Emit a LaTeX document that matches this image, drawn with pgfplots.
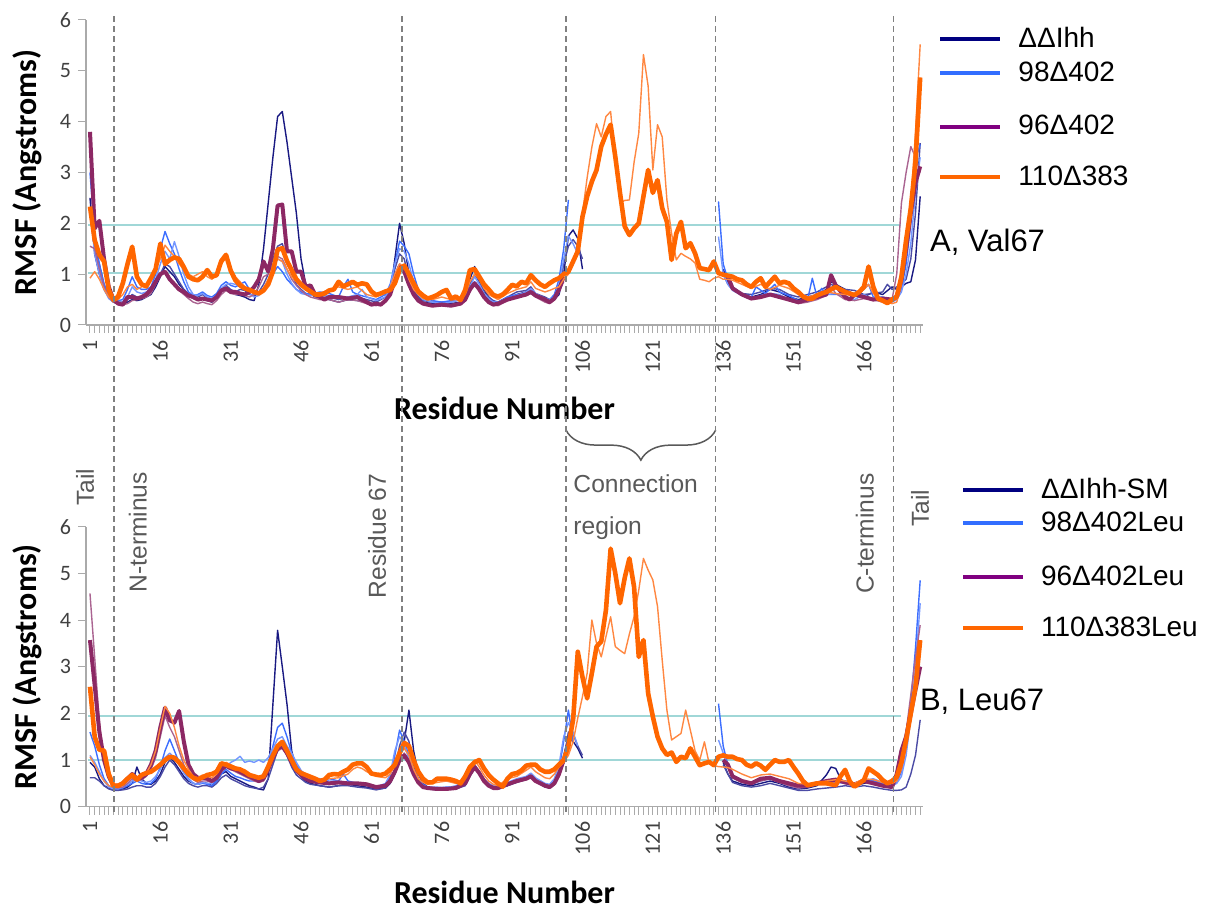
\documentclass[border=0pt]{standalone}
\usepackage{fontspec}
\setmainfont{Liberation Sans}
\newfontfamily\carlito{Carlito}
\usepackage{pgfplots}
\pgfplotsset{compat=1.18}
\usetikzlibrary{decorations.pathreplacing}
\definecolor{navyA}{RGB}{25,25,130}
\definecolor{navyB}{RGB}{75,75,165}
\definecolor{blueA}{RGB}{60,110,255}
\definecolor{blueB}{RGB}{115,150,255}
\definecolor{purpA}{RGB}{140,40,100}
\definecolor{purpB}{RGB}{170,100,145}
\definecolor{orA}{RGB}{255,102,0}
\definecolor{orB}{RGB}{255,135,65}
\definecolor{cyanln}{RGB}{160,215,215}
\definecolor{legnavy}{RGB}{0,0,128}
\definecolor{legblue}{RGB}{50,110,255}
\definecolor{legpurp}{RGB}{128,0,128}
\definecolor{axisgray}{RGB}{170,170,170}
\definecolor{tickgray}{RGB}{64,64,64}
\definecolor{annot}{RGB}{89,89,89}
\definecolor{dashgray}{RGB}{128,128,128}
\newcommand{\labfont}{\carlito\bfseries\fontsize{16}{16}\selectfont}
\pgfplotsset{
  rmsf/.style={
    scale only axis, width=418.5pt,
    xmin=0.15, xmax=178.6, ymin=0, ymax=6,
    xtick={1,16,...,166}, minor xtick={1,...,178},
    ytick={0,...,6},
    axis lines*=left,
    axis line style={draw=axisgray, line width=0.7pt},
    tick style={draw=axisgray, line width=0.5pt},
    tick align=outside,
    major tick length=4pt, minor tick length=4pt,
    /pgf/number format/assume math mode=true,
    xticklabel style={rotate=90, anchor=east, font=\carlito\fontsize{11}{11}\selectfont, text=tickgray},
    yticklabel style={font=\carlito\fontsize{11}{11}\selectfont, text=tickgray},
    xlabel={Residue Number}, ylabel={RMSF (Angstroms)},
    unbounded coords=jump,
    clip=false,
    legend image code/.code={\draw[##1, line width=2pt] (0pt,0pt) -- (30pt,0pt);},
    legend style={draw=none, fill=none, inner sep=0pt,
      font=\fontsize{14}{14}\selectfont, anchor=north west,
      row sep=1.5pt,
      /tikz/every odd column/.append style={column sep=6pt}},
    legend cell align=left,
  },
  spacer/.style={legend image code/.code={\draw[##1, line width=2pt] (0pt,0pt) -- (30pt,0pt); \path (0pt,-#1);}},
  thin/.style={line width=0.7pt, line join=round},
  cyanstyle/.style={cyanln, line width=1pt, forget plot},
}
\begin{document}
\begin{tikzpicture}
\path[use as bounding box] (0,0) rectangle (602.5pt,455pt);
% ================= TOP PANEL =================
\begin{axis}[rmsf, height=152.5pt, at={(43pt,292.5pt)}, anchor=south west,
  every axis x label/.style={at={(axis description cs:0.5,-0.272)},anchor=center,font=\labfont},
  every axis y label/.style={at={(axis description cs:-0.0705,0.5)},rotate=90,anchor=center,font=\labfont},
  legend style={at={(axis description cs:1.018,0.99)}}]
\addplot[cyanstyle] coordinates {(0.6,1.97) (174,1.97)};
\addplot[cyanstyle] coordinates {(0.6,1.03) (172.5,1.03)};
% navy 1
\addplot[thin, navyA, forget plot] coordinates {(1,2.5)(2,1.4)(3,1.0)(4,0.7)(5,0.55)(6,0.45)(7,0.42)(8,0.4)(9,0.45)(10,0.5)(11,0.48)(12,0.5)(13,0.55)(14,0.6)(15,0.75)(16,0.95)(17,1.15)(18,1.05)(19,0.95)(20,0.8)(21,0.7)(22,0.6)(23,0.52)(24,0.5)(25,0.52)(26,0.48)(27,0.45)(28,0.55)(29,0.65)(30,0.72)(31,0.65)(32,0.6)(33,0.58)(34,0.55)(35,0.5)(36,0.48)(37,0.8)(38,1.5)(39,2.4)(40,3.3)(41,4.1)(42,4.2)(43,3.6)(44,2.9)(45,2.2)(46,1.3)(47,0.8)(48,0.62)(49,0.55)(50,0.55)(52,0.5)(54,0.45)(56,0.5)(58,0.48)(60,0.45)(62,0.4)(63,0.42)(64,0.48)(65,0.6)(66,1.3)(67,2.0)(68,1.6)(69,1.0)(70,0.7)(71,0.55)(72,0.45)(74,0.42)(76,0.4)(78,0.42)(80,0.45)(81,0.6)(82,0.9)(83,1.15)(84,0.9)(85,0.7)(86,0.55)(87,0.45)(88,0.42)(90,0.5)(92,0.6)(94,0.65)(95,0.72)(96,0.6)(98,0.5)(99,0.45)(100,0.5)(101,0.6)(102,1.0)(103,1.75)(104,1.87)(105,1.7)(106,1.1)(107,nan)(136,1.1)(137,0.85)(138,0.7)(140,0.6)(142,0.55)(144,0.6)(146,0.7)(148,0.65)(150,0.55)(152,0.5)(154,0.55)(156,0.6)(158,0.7)(159,0.85)(160,0.8)(162,0.7)(164,0.6)(166,0.55)(168,0.65)(170,0.6)(172,0.75)(173,0.7)(174,0.75)(175,0.82)(176,0.85)(177,1.28)(178,2.53)};
% navy 2
\addplot[thin, navyB, forget plot] coordinates {(1,2.2)(2,1.5)(3,1.2)(4,0.8)(5,0.55)(6,0.48)(7,0.45)(8,0.45)(9,0.5)(10,0.6)(11,0.55)(12,0.55)(13,0.6)(14,0.65)(15,0.8)(16,1.0)(17,1.2)(18,1.15)(19,1.0)(20,0.85)(21,0.7)(22,0.62)(23,0.55)(24,0.55)(25,0.6)(26,0.52)(27,0.5)(28,0.6)(29,0.7)(30,0.78)(31,0.7)(32,0.65)(33,0.7)(34,0.68)(35,0.6)(36,0.58)(37,0.65)(38,0.8)(39,1.0)(40,1.3)(41,1.55)(42,1.6)(43,1.3)(44,1.0)(45,0.8)(46,0.7)(47,0.62)(48,0.6)(50,0.55)(52,0.55)(54,0.5)(56,0.55)(58,0.55)(60,0.5)(62,0.45)(64,0.55)(65,0.7)(66,1.1)(67,1.4)(68,1.3)(69,0.9)(70,0.7)(71,0.55)(72,0.48)(74,0.45)(76,0.45)(78,0.45)(80,0.5)(81,0.6)(82,0.8)(83,1.0)(84,0.85)(85,0.65)(86,0.55)(87,0.48)(88,0.45)(90,0.55)(92,0.65)(94,0.68)(95,0.75)(96,0.62)(98,0.55)(99,0.5)(100,0.55)(101,0.7)(102,1.2)(103,1.55)(104,1.68)(105,1.55)(106,1.3)(107,nan)(136,1.0)(137,0.8)(138,0.7)(140,0.62)(142,0.6)(144,0.65)(146,0.72)(148,0.7)(150,0.6)(152,0.55)(154,0.6)(156,0.65)(158,0.75)(159,0.8)(160,0.75)(162,0.7)(164,0.68)(166,0.6)(168,0.62)(170,0.65)(171,0.8)(172,0.7)(173,0.75)(174,0.8)(175,0.9)(176,1.3)(177,2.2)(178,3.58)};
% blue 1
\addplot[thin, blueA, forget plot] coordinates {(1,3.0)(2,1.8)(3,1.2)(4,0.8)(5,0.6)(6,0.5)(7,0.48)(8,0.5)(9,0.7)(10,0.95)(11,0.75)(12,0.7)(13,0.7)(14,0.75)(15,1.0)(16,1.5)(17,1.84)(18,1.6)(19,1.4)(20,1.1)(21,0.85)(22,0.65)(23,0.58)(24,0.6)(25,0.65)(26,0.58)(27,0.55)(28,0.62)(29,0.78)(30,0.85)(31,0.78)(32,0.75)(33,0.8)(34,0.85)(35,0.7)(36,0.6)(37,0.6)(38,0.7)(39,0.85)(40,1.0)(41,1.15)(42,1.05)(43,0.9)(44,0.8)(45,0.7)(46,0.65)(47,0.62)(48,0.6)(50,0.65)(52,0.62)(54,0.55)(55,0.75)(56,0.9)(57,0.65)(58,0.6)(60,0.55)(62,0.5)(64,0.6)(65,0.8)(66,1.2)(67,1.65)(68,1.55)(69,1.4)(70,1.0)(71,0.7)(72,0.55)(74,0.48)(76,0.45)(78,0.48)(80,0.5)(81,0.55)(82,0.7)(83,0.85)(84,0.75)(85,0.6)(86,0.5)(87,0.45)(88,0.45)(90,0.55)(92,0.6)(94,0.62)(95,0.7)(96,0.6)(98,0.5)(99,0.5)(100,0.6)(101,0.9)(102,1.5)(103,2.46)(104,nan)(135,2.43)(136,1.2)(137,0.9)(138,0.75)(140,0.62)(142,0.55)(143,0.75)(145,0.62)(147,0.8)(148,0.65)(150,0.58)(152,0.48)(154,0.5)(155,0.92)(156,0.55)(157,0.72)(158,0.6)(160,0.6)(162,0.62)(164,0.55)(166,0.7)(167,0.8)(168,0.55)(170,0.55)(172,0.5)(173,0.55)(174,0.7)(175,1.2)(176,2.0)(177,3.25)(178,3.55)};
% blue 2
\addplot[thin, blueB, forget plot] coordinates {(1,2.3)(2,1.4)(3,1.0)(4,0.7)(5,0.52)(6,0.45)(7,0.42)(8,0.45)(9,0.55)(10,0.75)(11,0.65)(12,0.62)(13,0.65)(14,0.7)(15,0.9)(16,1.2)(17,1.45)(18,1.3)(19,1.64)(20,1.35)(21,1.0)(22,0.75)(23,0.6)(24,0.58)(25,0.62)(26,0.55)(27,0.52)(28,0.58)(29,0.72)(30,0.8)(31,0.82)(32,0.8)(33,0.75)(34,0.72)(35,0.62)(36,0.55)(37,0.58)(38,0.72)(39,0.9)(40,1.1)(41,1.3)(42,1.25)(43,1.0)(44,0.82)(45,0.7)(46,0.62)(47,0.6)(48,0.58)(50,0.6)(52,0.58)(54,0.52)(56,0.55)(58,0.6)(59,0.7)(60,0.55)(62,0.48)(64,0.55)(65,0.75)(66,1.2)(67,1.5)(68,1.45)(69,1.2)(70,0.85)(71,0.6)(72,0.5)(74,0.45)(76,0.42)(78,0.45)(80,0.5)(81,0.55)(82,0.75)(83,0.95)(84,0.8)(85,0.62)(86,0.52)(87,0.45)(88,0.45)(90,0.52)(92,0.58)(94,0.65)(95,0.72)(96,0.62)(98,0.52)(99,0.5)(100,0.55)(101,0.8)(102,1.3)(103,1.75)(104,1.6)(105,1.4)(106,nan)(135,1.74)(136,1.0)(137,0.8)(138,0.68)(140,0.58)(142,0.52)(144,0.58)(146,0.62)(148,0.6)(150,0.5)(152,0.45)(154,0.5)(156,0.55)(158,0.6)(160,0.62)(162,0.55)(164,0.5)(166,0.6)(168,0.5)(170,0.48)(172,0.45)(173,0.5)(174,0.65)(175,1.0)(176,1.6)(177,2.6)(178,3.3)};
% purple thin
\addplot[thin, purpB, forget plot] coordinates {(1,1.55)(2,1.5)(3,1.1)(4,0.75)(5,0.55)(6,0.45)(7,0.42)(8,0.4)(9,0.42)(10,0.48)(11,0.5)(12,0.52)(13,0.55)(14,0.62)(15,0.8)(16,0.98)(17,1.05)(18,0.9)(19,0.78)(20,0.68)(21,0.6)(22,0.52)(23,0.45)(24,0.42)(25,0.45)(26,0.42)(27,0.4)(28,0.48)(29,0.6)(30,0.68)(31,0.62)(32,0.6)(33,0.6)(34,0.58)(35,0.55)(36,0.6)(37,0.75)(38,0.95)(39,1.0)(40,1.2)(41,1.35)(42,1.3)(43,1.1)(44,0.9)(45,0.78)(46,0.68)(47,0.6)(48,0.55)(50,0.5)(52,0.5)(54,0.45)(56,0.5)(58,0.48)(60,0.42)(62,0.38)(64,0.45)(65,0.6)(66,0.95)(67,1.2)(68,1.1)(69,0.8)(70,0.6)(71,0.5)(72,0.42)(74,0.38)(76,0.38)(78,0.4)(80,0.42)(81,0.5)(82,0.65)(83,0.8)(84,0.68)(85,0.55)(86,0.45)(87,0.4)(88,0.38)(90,0.48)(92,0.55)(94,0.58)(95,0.62)(96,0.55)(98,0.45)(99,0.42)(100,0.5)(101,0.65)(102,0.85)(103,nan)(137,0.92)(138,0.75)(140,0.6)(142,0.52)(144,0.55)(146,0.58)(148,0.55)(150,0.48)(152,0.42)(154,0.45)(156,0.5)(158,0.58)(159,0.75)(160,0.62)(162,0.5)(164,0.48)(166,0.52)(168,0.5)(170,0.45)(172,0.5)(173,1.0)(174,2.4)(175,3.0)(176,3.51)(177,3.3)(178,3.0)};
% purple thick
\addplot[line width=2pt, line join=round, purpA, forget plot] coordinates {(1,3.8)(2,1.9)(3,2.05)(4,1.3)(5,0.75)(6,0.5)(7,0.42)(8,0.4)(9,0.55)(10,0.55)(11,0.52)(12,0.55)(13,0.6)(14,0.7)(15,0.85)(16,1.0)(17,1.05)(18,0.9)(19,0.8)(20,0.7)(21,0.65)(22,0.58)(23,0.55)(24,0.5)(25,0.52)(26,0.5)(27,0.48)(28,0.55)(29,0.68)(30,0.72)(31,0.65)(32,0.65)(33,0.62)(34,0.6)(35,0.65)(36,0.75)(37,0.9)(38,1.25)(39,1.05)(40,1.5)(41,2.35)(42,2.37)(43,1.45)(44,1.45)(45,1.05)(46,1.05)(47,0.75)(48,0.78)(49,0.6)(50,0.55)(51,0.5)(52,0.55)(54,0.55)(56,0.52)(58,0.55)(60,0.45)(61,0.4)(62,0.42)(63,0.4)(64,0.48)(65,0.6)(66,0.9)(67,1.15)(68,1.05)(69,0.8)(70,0.6)(71,0.48)(72,0.42)(74,0.38)(76,0.4)(78,0.38)(80,0.42)(81,0.5)(82,0.7)(83,0.82)(84,0.7)(85,0.55)(86,0.45)(87,0.4)(88,0.42)(90,0.5)(92,0.55)(94,0.6)(95,0.65)(96,0.58)(98,0.5)(99,0.45)(100,0.52)(101,0.7)(102,0.95)(103,nan)(137,0.95)(138,0.72)(140,0.6)(142,0.52)(144,0.55)(146,0.6)(148,0.55)(150,0.5)(152,0.45)(154,0.5)(156,0.55)(158,0.6)(159,0.98)(160,0.78)(162,0.55)(163,0.5)(164,0.6)(166,0.55)(168,0.5)(170,0.52)(172,0.5)(173,0.55)(174,0.9)(175,1.5)(176,2.2)(177,2.8)(178,3.12)};
% orange thin
\addplot[thin, orB, forget plot] coordinates {(1,0.92)(2,1.05)(3,0.9)(4,0.7)(5,0.55)(6,0.48)(7,0.5)(8,0.6)(9,0.75)(10,0.8)(11,0.7)(12,0.75)(13,0.8)(14,0.9)(15,1.1)(16,1.3)(17,1.57)(18,1.45)(19,1.35)(20,1.2)(21,1.1)(22,1.0)(23,0.95)(24,1.0)(25,1.05)(26,0.95)(27,0.9)(28,1.0)(29,1.2)(30,1.32)(31,1.1)(32,0.95)(33,0.85)(34,0.75)(35,0.7)(36,0.65)(37,0.65)(38,0.72)(39,0.9)(40,1.15)(41,1.3)(42,1.25)(43,1.1)(44,0.95)(45,0.85)(46,0.75)(47,0.7)(48,0.65)(49,0.6)(50,0.62)(52,0.7)(54,0.75)(56,0.7)(58,0.75)(60,0.6)(62,0.55)(64,0.65)(65,0.75)(66,1.0)(67,1.2)(68,1.15)(69,0.9)(70,0.7)(71,0.6)(72,0.52)(74,0.5)(76,0.55)(78,0.5)(80,0.5)(81,0.6)(82,0.85)(83,1.0)(84,0.9)(85,0.72)(86,0.6)(87,0.55)(88,0.5)(90,0.62)(92,0.7)(94,0.75)(95,0.85)(96,0.72)(98,0.65)(99,0.68)(100,0.72)(101,0.75)(102,0.9)(103,1.0)(104,1.2)(105,1.6)(106,2.2)(107,2.9)(108,3.5)(109,3.96)(110,3.7)(111,4.1)(112,4.2)(113,3.2)(114,2.4)(115,2.45)(116,2.46)(117,3.2)(118,3.77)(119,5.32)(120,4.7)(121,3.05)(122,3.94)(123,3.7)(124,2.46)(125,1.8)(126,1.28)(127,1.41)(128,1.35)(129,1.3)(130,1.22)(131,0.9)(132,0.88)(133,0.85)(134,0.92)(135,0.95)(136,0.9)(137,0.9)(138,0.88)(140,0.8)(142,0.72)(144,0.8)(146,0.7)(148,0.78)(150,0.72)(152,0.6)(154,0.55)(156,0.6)(158,0.65)(160,0.62)(162,0.6)(164,0.58)(166,0.7)(167,0.8)(168,0.62)(170,0.5)(172,0.42)(173,0.45)(174,0.8)(175,1.4)(176,2.4)(177,3.8)(178,5.52)};
% orange thick
\addplot[line width=2.3pt, line join=round, orA, forget plot] coordinates {(1,2.33)(2,1.67)(3,1.38)(4,1.25)(5,0.69)(6,0.49)(7,0.56)(8,0.82)(9,1.2)(10,1.54)(11,0.95)(12,0.8)(13,0.76)(14,0.92)(15,1.1)(16,1.6)(17,1.2)(18,1.28)(19,1.33)(20,1.3)(21,1.14)(22,0.95)(23,0.9)(24,0.88)(25,0.95)(26,1.08)(27,0.95)(28,0.98)(29,1.26)(30,1.38)(31,1.07)(32,0.88)(33,0.78)(34,0.72)(35,0.69)(36,0.65)(37,0.62)(38,0.68)(39,0.8)(40,1.05)(41,1.48)(42,1.51)(43,1.26)(44,1.08)(45,0.9)(46,0.8)(47,0.72)(48,0.66)(49,0.6)(50,0.6)(51,0.62)(52,0.68)(53,0.7)(54,0.85)(55,0.76)(56,0.8)(57,0.85)(58,0.79)(59,0.82)(60,0.8)(61,0.66)(62,0.59)(63,0.62)(64,0.66)(65,0.69)(66,0.82)(67,1.08)(68,1.17)(69,1.0)(70,0.82)(71,0.66)(72,0.58)(73,0.52)(74,0.55)(75,0.59)(76,0.65)(77,0.69)(78,0.52)(79,0.56)(80,0.49)(81,0.69)(82,1.08)(83,1.1)(84,0.95)(85,0.8)(86,0.7)(87,0.59)(88,0.56)(89,0.6)(90,0.69)(91,0.79)(92,0.76)(93,0.85)(94,0.82)(95,0.98)(96,0.88)(97,0.8)(98,0.75)(99,0.82)(100,0.88)(101,0.92)(102,1.0)(103,1.05)(104,1.25)(105,1.45)(106,2.13)(107,2.53)(108,2.82)(109,3.05)(110,3.51)(111,3.75)(112,3.94)(113,3.31)(114,2.6)(115,1.94)(116,1.77)(117,1.9)(118,2.0)(119,2.53)(120,3.05)(121,2.6)(122,2.85)(123,2.3)(124,2.03)(125,1.28)(126,1.8)(127,2.03)(128,1.51)(129,1.61)(130,1.41)(131,1.12)(132,1.1)(133,1.08)(134,1.25)(135,1.02)(136,0.99)(137,0.97)(138,0.95)(139,0.9)(140,0.88)(141,0.8)(142,0.75)(143,0.85)(144,0.92)(145,0.75)(146,0.85)(147,0.95)(148,0.82)(149,0.85)(150,0.82)(151,0.72)(152,0.65)(153,0.56)(154,0.52)(155,0.52)(156,0.58)(157,0.62)(158,0.65)(159,0.7)(160,0.75)(161,0.7)(162,0.65)(163,0.62)(164,0.59)(165,0.65)(166,0.75)(167,1.15)(168,0.75)(169,0.52)(170,0.48)(171,0.43)(172,0.5)(173,0.56)(174,0.95)(175,1.67)(176,2.3)(177,3.2)(178,4.87)};
\addlegendimage{legnavy}\addlegendentry{ΔΔIhh}
\addlegendimage{legblue,spacer=17.5pt}\addlegendentry{98Δ402}
\addlegendimage{legpurp,spacer=16pt}\addlegendentry{96Δ402}
\addlegendimage{orA}\addlegendentry{110Δ383}
\node[anchor=west, inner sep=0pt, font=\fontsize{15.5}{15.5}\selectfont] at (axis description cs:1.008,0.272) {A, Val67};
\end{axis}
% ================= BOTTOM PANEL =================
\begin{axis}[rmsf, height=140pt, at={(43pt,51.65pt)}, anchor=south west,
  every axis x label/.style={at={(axis description cs:0.5,-0.305)},anchor=center,font=\labfont},
  every axis y label/.style={at={(axis description cs:-0.0705,0.5)},rotate=90,anchor=center,font=\labfont},
  legend style={at={(axis description cs:1.045,1.19)}}]
\addplot[cyanstyle] coordinates {(0.6,1.95) (174,1.95)};
\addplot[cyanstyle] coordinates {(0.6,1.0) (173,1.0)};
% navy 1
\addplot[thin, navyA, forget plot] coordinates {(1,0.95)(2,0.85)(3,0.6)(4,0.45)(5,0.4)(6,0.36)(7,0.36)(8,0.38)(9,0.42)(10,0.5)(11,0.85)(12,0.6)(13,0.5)(14,0.48)(15,0.55)(16,0.7)(17,0.95)(18,1.05)(19,0.95)(20,0.8)(21,0.65)(22,0.55)(23,0.5)(24,0.48)(25,0.52)(26,0.5)(27,0.45)(28,0.55)(29,0.7)(30,0.75)(31,0.65)(32,0.6)(33,0.55)(34,0.5)(35,0.45)(36,0.42)(37,0.38)(38,0.36)(39,0.6)(40,2.2)(41,3.78)(42,3.0)(43,2.2)(44,1.2)(45,0.8)(46,0.65)(47,0.55)(48,0.5)(50,0.45)(52,0.42)(54,0.45)(56,0.48)(58,0.45)(60,0.42)(62,0.38)(64,0.4)(65,0.5)(66,0.7)(67,1.0)(68,1.4)(69,2.07)(70,1.2)(71,0.7)(72,0.5)(73,0.42)(75,0.38)(77,0.4)(79,0.38)(81,0.5)(82,0.7)(83,0.88)(84,0.75)(85,0.6)(86,0.48)(87,0.42)(88,0.4)(90,0.45)(92,0.55)(94,0.6)(95,0.7)(96,0.58)(98,0.45)(99,0.42)(100,0.5)(101,0.7)(102,1.1)(103,1.5)(104,1.4)(105,1.25)(106,1.04)(107,nan)(136,0.95)(137,0.7)(138,0.55)(140,0.48)(142,0.45)(144,0.5)(146,0.55)(148,0.5)(150,0.42)(152,0.38)(154,0.4)(156,0.45)(158,0.68)(159,0.85)(160,0.82)(161,0.6)(162,0.5)(164,0.45)(166,0.5)(168,0.55)(170,0.5)(172,0.45)(173,0.6)(174,1.0)(175,1.6)(176,2.2)(177,2.6)(178,3.0)};
% navy 2
\addplot[thin, navyB, forget plot] coordinates {(1,0.62)(2,0.62)(3,0.55)(4,0.45)(5,0.38)(6,0.35)(7,0.35)(8,0.36)(9,0.38)(10,0.42)(11,0.45)(12,0.45)(13,0.42)(14,0.42)(15,0.5)(16,0.65)(17,0.85)(18,1.0)(19,0.9)(20,0.75)(21,0.6)(22,0.5)(23,0.45)(24,0.42)(25,0.45)(26,0.45)(27,0.42)(28,0.5)(29,0.62)(30,0.68)(31,0.6)(32,0.55)(33,0.5)(34,0.45)(35,0.42)(36,0.4)(37,0.38)(38,0.42)(39,0.6)(40,0.9)(41,1.2)(42,1.3)(43,1.1)(44,0.85)(45,0.68)(46,0.6)(47,0.52)(48,0.48)(50,0.45)(52,0.42)(54,0.45)(56,0.45)(58,0.42)(60,0.4)(62,0.36)(64,0.4)(65,0.55)(66,0.8)(67,1.3)(68,1.6)(69,1.4)(70,0.9)(71,0.6)(72,0.45)(73,0.38)(75,0.36)(77,0.38)(79,0.38)(81,0.45)(82,0.65)(83,0.82)(84,0.7)(85,0.55)(86,0.45)(87,0.4)(88,0.38)(90,0.45)(92,0.52)(94,0.58)(95,0.65)(96,0.55)(98,0.42)(99,0.4)(100,0.48)(101,0.65)(102,1.0)(103,1.6)(104,1.55)(105,1.3)(106,1.1)(107,nan)(136,0.9)(137,0.7)(138,0.52)(140,0.45)(142,0.42)(144,0.45)(146,0.5)(148,0.45)(150,0.4)(152,0.35)(154,0.35)(156,0.38)(158,0.4)(160,0.42)(162,0.45)(164,0.42)(166,0.45)(168,0.42)(170,0.38)(172,0.35)(173,0.35)(174,0.36)(175,0.42)(176,0.7)(177,1.1)(178,1.86)};
% blue 1
\addplot[thin, blueA, forget plot] coordinates {(1,1.6)(2,1.3)(3,0.9)(4,0.6)(5,0.45)(6,0.4)(7,0.38)(8,0.4)(9,0.45)(10,0.5)(11,0.55)(12,0.5)(13,0.48)(14,0.5)(15,0.6)(16,0.85)(17,1.2)(18,1.45)(19,1.2)(20,0.95)(21,0.75)(22,0.6)(23,0.5)(24,0.48)(25,0.5)(26,0.48)(27,0.45)(28,0.55)(29,0.7)(30,0.8)(31,0.72)(32,0.65)(33,0.62)(34,0.58)(35,0.55)(36,0.55)(37,0.6)(38,0.7)(39,0.9)(40,1.3)(41,1.7)(42,1.79)(43,1.5)(44,1.15)(45,0.9)(46,0.75)(47,0.65)(48,0.6)(50,0.55)(52,0.6)(54,0.55)(55,0.7)(56,0.55)(58,0.5)(60,0.48)(62,0.42)(64,0.48)(65,0.65)(66,1.1)(67,1.64)(68,1.4)(69,1.1)(70,0.8)(71,0.6)(72,0.48)(73,0.42)(75,0.4)(77,0.42)(79,0.42)(81,0.5)(82,0.7)(83,0.9)(84,0.75)(85,0.58)(86,0.48)(87,0.42)(88,0.42)(90,0.5)(92,0.55)(94,0.62)(95,0.7)(96,0.6)(98,0.48)(99,0.45)(100,0.55)(101,0.8)(102,1.4)(103,2.07)(104,1.4)(105,nan)(135,2.21)(136,1.3)(137,0.9)(138,0.65)(140,0.55)(142,0.5)(144,0.6)(146,0.65)(148,0.55)(150,0.5)(152,0.45)(154,0.42)(156,0.48)(158,0.52)(160,0.5)(162,0.55)(164,0.5)(166,0.58)(168,0.55)(170,0.5)(172,0.48)(173,0.52)(174,0.75)(175,1.3)(176,2.2)(177,3.4)(178,4.85)};
% blue 2
\addplot[thin, blueB, forget plot] coordinates {(1,1.1)(2,0.95)(3,0.75)(4,0.55)(5,0.42)(6,0.38)(7,0.38)(8,0.42)(9,0.48)(10,0.55)(11,0.6)(12,0.55)(13,0.52)(14,0.55)(15,0.65)(16,0.8)(17,1.05)(18,1.15)(19,1.05)(20,0.9)(21,0.72)(22,0.58)(23,0.5)(24,0.48)(25,0.52)(26,0.5)(27,0.5)(28,0.6)(29,0.75)(30,0.85)(31,0.95)(32,1.0)(33,1.08)(34,0.95)(35,0.98)(36,0.95)(37,1.0)(38,0.95)(39,1.05)(40,1.25)(41,1.45)(42,1.5)(43,1.3)(44,1.15)(45,0.95)(46,0.78)(47,0.68)(48,0.62)(50,0.6)(52,0.55)(54,0.55)(56,0.52)(58,0.5)(60,0.45)(62,0.42)(64,0.5)(65,0.7)(66,1.2)(67,1.5)(68,1.35)(69,1.0)(70,0.75)(71,0.55)(72,0.45)(73,0.42)(75,0.42)(77,0.4)(79,0.45)(81,0.55)(82,0.72)(83,0.85)(84,0.72)(85,0.58)(86,0.5)(87,0.45)(88,0.45)(90,0.52)(92,0.6)(94,0.65)(95,0.72)(96,0.62)(98,0.5)(99,0.48)(100,0.6)(101,0.9)(102,1.5)(103,1.8)(104,1.6)(105,1.3)(106,nan)(135,1.43)(136,1.15)(137,0.85)(138,0.62)(140,0.52)(142,0.48)(144,0.55)(146,0.6)(148,0.52)(150,0.45)(152,0.4)(154,0.45)(156,0.5)(158,0.55)(160,0.52)(162,0.5)(164,0.48)(166,0.55)(168,0.6)(170,0.52)(172,0.45)(173,0.5)(174,0.65)(175,1.1)(176,1.9)(177,3.0)(178,4.36)};
% purple thin
\addplot[thin, purpB, forget plot] coordinates {(1,4.57)(2,3.2)(3,1.8)(4,1.0)(5,0.6)(6,0.42)(7,0.4)(8,0.42)(9,0.5)(10,0.6)(11,0.55)(12,0.58)(13,0.65)(14,0.8)(15,1.05)(16,1.5)(17,1.95)(18,1.7)(19,1.5)(20,1.2)(21,0.9)(22,0.7)(23,0.58)(24,0.52)(25,0.55)(26,0.55)(27,0.52)(28,0.6)(29,0.75)(30,0.85)(31,0.8)(32,0.75)(33,0.7)(34,0.65)(35,0.6)(36,0.55)(37,0.52)(38,0.55)(39,0.75)(40,1.0)(41,1.2)(42,1.25)(43,1.1)(44,0.9)(45,0.75)(46,0.65)(47,0.58)(48,0.55)(50,0.5)(52,0.48)(54,0.5)(56,0.5)(58,0.48)(60,0.45)(62,0.4)(64,0.45)(65,0.55)(66,0.75)(67,1.0)(68,1.15)(69,1.0)(70,0.75)(71,0.55)(72,0.45)(73,0.4)(75,0.38)(77,0.4)(79,0.4)(81,0.5)(82,0.68)(83,0.82)(84,0.7)(85,0.55)(86,0.45)(87,0.42)(88,0.4)(90,0.48)(92,0.55)(94,0.6)(95,0.68)(96,0.58)(98,0.48)(99,0.45)(100,0.52)(101,0.7)(102,0.95)(103,nan)(136,0.98)(137,0.85)(138,0.62)(140,0.52)(142,0.5)(144,0.55)(146,0.6)(148,0.52)(150,0.45)(152,0.4)(154,0.42)(156,0.48)(158,0.55)(160,0.6)(162,0.52)(164,0.48)(166,0.55)(168,0.5)(170,0.45)(172,0.42)(173,0.6)(174,1.0)(175,1.6)(176,2.4)(177,3.2)(178,3.89)};
% purple thick
\addplot[line width=2pt, line join=round, purpA, forget plot] coordinates {(1,3.57)(2,2.6)(3,1.6)(4,1.0)(5,0.65)(6,0.45)(7,0.45)(8,0.5)(9,0.6)(10,0.7)(11,0.6)(12,0.62)(13,0.7)(14,0.9)(15,1.2)(16,1.7)(17,2.12)(18,1.85)(19,1.8)(20,2.05)(21,1.4)(22,0.9)(23,0.7)(24,0.62)(25,0.62)(26,0.6)(27,0.55)(28,0.62)(29,0.8)(30,0.88)(31,0.82)(32,0.8)(33,0.75)(34,0.7)(35,0.65)(36,0.6)(37,0.55)(38,0.6)(39,0.8)(40,1.05)(41,1.25)(42,1.3)(43,1.15)(44,0.95)(45,0.78)(46,0.68)(47,0.6)(48,0.55)(50,0.52)(52,0.5)(54,0.52)(56,0.5)(58,0.5)(60,0.48)(62,0.42)(64,0.45)(65,0.55)(66,0.75)(67,1.0)(68,1.1)(69,0.95)(70,0.7)(71,0.52)(72,0.42)(73,0.4)(75,0.38)(77,0.38)(79,0.4)(81,0.5)(82,0.7)(83,0.85)(84,0.72)(85,0.55)(86,0.45)(87,0.4)(88,0.4)(90,0.48)(92,0.55)(94,0.6)(95,0.65)(96,0.55)(98,0.45)(99,0.42)(100,0.5)(101,0.7)(102,1.0)(103,nan)(136,1.0)(137,0.9)(138,0.65)(140,0.55)(142,0.5)(144,0.6)(146,0.62)(148,0.55)(150,0.5)(152,0.45)(154,0.45)(156,0.5)(158,0.55)(160,0.58)(162,0.52)(164,0.48)(166,0.55)(168,0.5)(170,0.45)(172,0.42)(173,0.7)(174,1.2)(175,1.5)(176,2.0)(177,2.5)(178,3.0)};
% orange thin
\addplot[thin, orB, forget plot] coordinates {(1,1.07)(2,0.9)(3,0.7)(4,0.55)(5,0.45)(6,0.42)(7,0.45)(8,0.5)(9,0.6)(10,0.7)(11,0.62)(12,0.65)(13,0.72)(14,0.9)(15,1.2)(16,1.7)(17,2.15)(18,2.0)(19,1.7)(20,1.3)(21,1.0)(22,0.8)(23,0.65)(24,0.62)(25,0.68)(26,0.65)(27,0.62)(28,0.7)(29,0.88)(30,0.95)(31,0.9)(32,0.85)(33,0.8)(34,0.75)(35,0.7)(36,0.65)(37,0.62)(38,0.65)(39,0.85)(40,1.1)(41,1.3)(42,1.32)(43,1.15)(44,0.95)(45,0.8)(46,0.7)(47,0.65)(48,0.6)(50,0.58)(52,0.6)(54,0.62)(56,0.7)(57,0.8)(58,0.85)(59,0.82)(60,0.75)(62,0.65)(64,0.62)(65,0.7)(66,0.9)(67,1.1)(68,1.25)(69,1.1)(70,0.8)(71,0.6)(72,0.52)(73,0.48)(75,0.52)(77,0.55)(79,0.5)(81,0.62)(82,0.85)(83,1.0)(84,0.85)(85,0.68)(86,0.55)(87,0.48)(88,0.45)(90,0.6)(92,0.65)(94,0.78)(95,0.85)(96,0.75)(98,0.62)(99,0.6)(100,0.7)(101,0.85)(102,0.95)(103,1.1)(104,1.39)(105,1.9)(106,2.36)(107,2.86)(108,4.0)(109,3.5)(110,3.21)(111,3.64)(112,4.07)(113,3.43)(114,3.35)(115,3.28)(116,3.7)(117,4.07)(118,4.64)(119,5.32)(120,5.07)(121,4.86)(122,4.29)(123,3.14)(124,2.07)(125,1.43)(126,1.5)(127,1.57)(128,2.07)(129,1.64)(130,1.2)(131,1.0)(132,1.39)(133,0.93)(134,0.88)(135,0.86)(136,0.85)(137,0.84)(138,0.8)(140,0.7)(142,0.62)(144,0.68)(146,0.7)(148,0.65)(150,0.6)(152,0.5)(154,0.48)(156,0.52)(158,0.55)(160,0.58)(162,0.55)(164,0.5)(166,0.6)(168,0.58)(170,0.52)(172,0.5)(173,0.55)(174,0.8)(175,1.3)(176,2.0)(177,2.8)(178,3.4)};
% orange thick
\addplot[line width=2.3pt, line join=round, orA, forget plot] coordinates {(1,2.57)(2,1.5)(3,1.22)(4,1.2)(5,0.7)(6,0.45)(7,0.45)(8,0.5)(9,0.6)(10,0.68)(11,0.58)(12,0.68)(13,0.72)(14,0.75)(15,0.82)(16,0.9)(17,1.0)(18,1.07)(19,1.05)(20,0.95)(21,0.82)(22,0.7)(23,0.62)(24,0.58)(25,0.63)(26,0.68)(27,0.7)(28,0.75)(29,0.93)(30,0.9)(31,0.86)(32,0.82)(33,0.8)(34,0.75)(35,0.68)(36,0.65)(37,0.62)(38,0.65)(39,0.86)(40,1.1)(41,1.3)(42,1.39)(43,1.2)(44,1.0)(45,0.8)(46,0.72)(47,0.68)(48,0.64)(49,0.6)(50,0.55)(51,0.58)(52,0.68)(53,0.7)(54,0.69)(55,0.75)(56,0.8)(57,0.9)(58,0.93)(59,0.93)(60,0.85)(61,0.71)(62,0.69)(63,0.68)(64,0.71)(65,0.8)(66,0.9)(67,1.15)(68,1.37)(69,1.3)(70,1.0)(71,0.75)(72,0.6)(73,0.52)(74,0.52)(75,0.6)(76,0.6)(77,0.6)(78,0.58)(79,0.55)(80,0.5)(81,0.65)(82,0.85)(83,0.95)(84,1.0)(85,0.82)(86,0.68)(87,0.58)(88,0.5)(89,0.43)(90,0.6)(91,0.7)(92,0.72)(93,0.78)(94,0.88)(95,0.9)(96,0.9)(97,0.8)(98,0.75)(99,0.75)(100,0.8)(101,0.9)(102,1.0)(103,1.3)(104,1.86)(105,3.32)(106,2.78)(107,2.32)(108,2.86)(109,3.43)(110,3.54)(111,4.21)(112,5.53)(113,5.0)(114,4.36)(115,4.9)(116,5.32)(117,4.71)(118,3.21)(119,3.57)(120,2.43)(121,1.93)(122,1.5)(123,1.25)(124,1.11)(125,1.16)(126,0.96)(127,1.07)(128,1.04)(129,1.25)(130,1.07)(131,0.89)(132,0.93)(133,0.96)(134,0.89)(135,1.07)(136,1.1)(137,1.07)(138,1.07)(139,1.02)(140,1.0)(141,0.9)(142,0.86)(143,0.93)(144,0.88)(145,0.79)(146,0.9)(147,1.0)(148,0.96)(149,0.96)(150,1.0)(151,0.85)(152,0.71)(153,0.55)(154,0.46)(155,0.48)(156,0.5)(157,0.5)(158,0.5)(159,0.48)(160,0.46)(161,0.65)(162,0.79)(163,0.54)(164,0.43)(165,0.5)(166,0.57)(167,0.82)(168,0.75)(169,0.68)(170,0.57)(171,0.5)(172,0.55)(173,0.64)(174,0.95)(175,1.43)(176,2.0)(177,2.57)(178,3.57)};
\addlegendimage{legnavy}\addlegendentry{ΔΔIhh-SM}
\addlegendimage{legblue,spacer=17.5pt}\addlegendentry{98Δ402Leu}
\addlegendimage{legpurp,spacer=16pt}\addlegendentry{96Δ402Leu}
\addlegendimage{orA}\addlegendentry{110Δ383Leu}
\node[anchor=west, inner sep=0pt, font=\fontsize{15.5}{15.5}\selectfont] at (axis description cs:0.996,0.375) {B, Leu67};
% annotations
\begin{scope}[every node/.style={text=annot, inner sep=0pt, font=\fontsize{12.3}{14}\selectfont}]
\node[rotate=90] at (axis cs:-0.07,6.85) {Tail};
\node[rotate=90] at (axis cs:11.2,5.88) {N-terminus};
\node[rotate=90] at (axis cs:62.2,5.8) {Residue 67};
\node[anchor=west] at (axis cs:104,6.93) {Connection};
\node[anchor=west] at (axis cs:104,5.97) {region};
\node[rotate=90] at (axis cs:166.2,5.85) {C-terminus};
\node[rotate=90] at (axis cs:178,6.4) {Tail};
\end{scope}
\draw[annot, line width=0.75pt, decorate, decoration={brace, mirror, amplitude=15pt}] (axis cs:102.5,8.07) -- (axis cs:134.4,8.07);
\pgfplotsinvokeforeach{6.1,67.5,102.5,134.4,172.3}{
  \draw[dashgray, line width=0.75pt, dash pattern=on 3pt off 2pt] (axis cs:#1,-0.11) -- (axis cs:#1,17.0);
}
\end{axis}
\end{tikzpicture}
\end{document}
